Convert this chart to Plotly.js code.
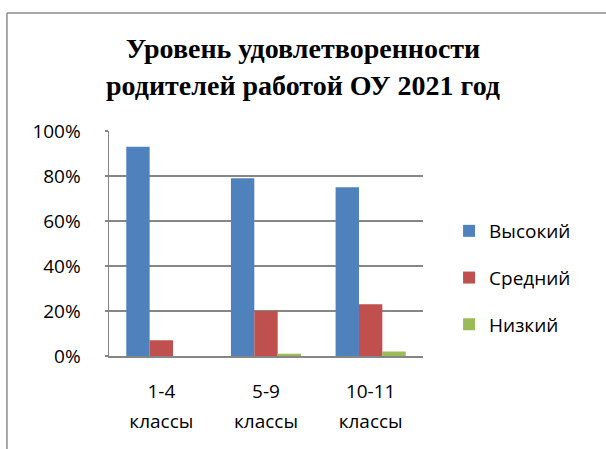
<!DOCTYPE html>
<html>
<head>
<meta charset="utf-8">
<script src="https://cdn.plot.ly/plotly-3.0.1.min.js"></script>
<style>html,body{margin:0;padding:0;background:#fff;}#chart{width:606px;height:449px;}</style>
</head>
<body>
<div id="chart"></div>
<script>
var categories = ["1-4", "5-9", "10-11"];
var categorySubLabels = ["классы", "классы", "классы"];
var seriesNames = ["Высокий", "Средний", "Низкий"];
var high = [0.93, 0.79, 0.75];
var mid = [0.07, 0.20, 0.23];
var low = [0.00, 0.01, 0.02];
var yTickVals = [0, 0.2, 0.4, 0.6, 0.8, 1.0];
var yTickText = ["0%", "20%", "40%", "60%", "80%", "100%"];
var titleText = "Уровень удовлетворенности<br>родителей работой ОУ 2021 год";

var colors = ["#4F81BD", "#C0504D", "#9BBB59"];
var values = [high, mid, low];
var labelFont = {family: "Open Sans, Noto Sans, sans-serif", size: 19, color: "#000"};

var traces = values.map(function (v, i) {
  return {
    type: "bar",
    name: seriesNames[i],
    x: categories,
    y: v,
    legendgroup: "g" + i,
    marker: {color: colors[i]},
    hoverinfo: "skip"
  };
});
// carrier for the second line of category labels (no marks drawn)
traces.push({
  type: "scatter",
  mode: "none",
  x: categories,
  y: categories.map(function () { return null; }),
  xaxis: "x2",
  yaxis: "y",
  showlegend: false,
  hoverinfo: "skip"
});

var layout = {
  width: 606,
  height: 449,
  margin: {l: 109, r: 183, t: 131, b: 93},
  paper_bgcolor: "#fff",
  plot_bgcolor: "#fff",
  barmode: "group",
  bargap: 0.33,
  bargroupgap: 0,
  showlegend: true,
  title: {
    text: titleText,
    font: {family: "Liberation Serif, Times New Roman, serif", size: 28, color: "#000", weight: "bold"},
    x: 0.5,
    xref: "container",
    xanchor: "center",
    y: 0.87,
    yref: "container",
    yanchor: "middle"
  },
  xaxis: {
    type: "category",
    categoryarray: categories,
    showline: true,
    linecolor: "#868686",
    linewidth: 1.5,
    ticks: "",
    showgrid: false,
    ticklabelstandoff: 18,
    tickfont: labelFont,
    fixedrange: true
  },
  xaxis2: {
    type: "category",
    overlaying: "x",
    matches: "x",
    anchor: "y",
    side: "bottom",
    categoryarray: categories,
    tickmode: "array",
    tickvals: categories,
    ticktext: categorySubLabels,
    showline: false,
    showgrid: false,
    zeroline: false,
    ticks: "",
    ticklabelstandoff: 52,
    tickfont: labelFont,
    fixedrange: true
  },
  yaxis: {
    range: [0, 1.0],
    tickvals: yTickVals,
    ticktext: yTickText,
    showline: true,
    linecolor: "#868686",
    linewidth: 1.5,
    showgrid: true,
    gridcolor: "#868686",
    gridwidth: 1.5,
    ticks: "outside",
    ticklen: 3,
    tickcolor: "#868686",
    tickwidth: 1.5,
    ticklabelstandoff: 20,
    tickfont: labelFont,
    zeroline: false,
    fixedrange: true
  },
  legend: {
    x: 1.083,
    xanchor: "left",
    y: 0.64,
    yanchor: "top",
    traceorder: "grouped",
    tracegroupgap: 19,
    font: labelFont,
    bgcolor: "rgba(0,0,0,0)"
  },
  shapes: [
    {type: "line", xref: "paper", yref: "paper", x0: -0.325, x1: 1.7, y0: 1.524, y1: 1.524, line: {color: "#8c8c8c", width: 1.5}},
    {type: "line", xref: "paper", yref: "paper", x0: -0.325, x1: -0.325, y0: 1.524, y1: -0.5, line: {color: "#8c8c8c", width: 1.5}}
  ]
};

Plotly.newPlot("chart", traces, layout, {displayModeBar: false, staticPlot: true});
</script>
</body>
</html>
